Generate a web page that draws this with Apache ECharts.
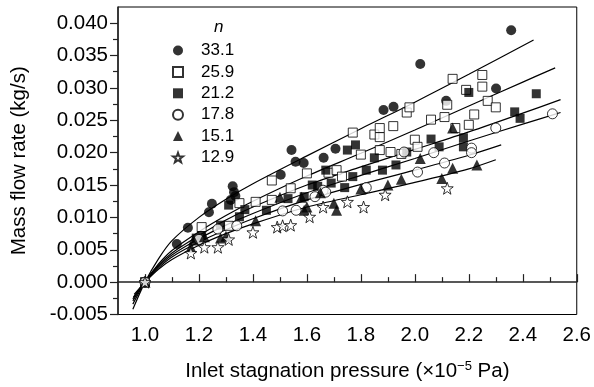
<!DOCTYPE html>
<html>
<head>
<meta charset="utf-8">
<script src="https://cdn.jsdelivr.net/npm/echarts@6/dist/echarts.min.js"></script>
<style>
html, body { margin: 0; padding: 0; background: #fff; }
#main { width: 594px; height: 387px; }
</style>
</head>
<body>
<div id="main"></div>
<script>
// measured points, [inlet pressure, mass flow rate]
const n331 = [[1.0,0],[1.118,0.0059],[1.159,0.0084],[1.237,0.0108],[1.248,0.0121],[1.318,0.0127],[1.325,0.0148],[1.33,0.0139],[1.335,0.0133],
  [1.503,0.0166],[1.543,0.0204],[1.558,0.0186],[1.588,0.0184],[1.662,0.0192],[1.706,0.0206],[1.884,0.0266],[1.921,0.0271],
  [2.020,0.0337],[2.116,0.0280],[2.301,0.0299],[2.357,0.0389]];
const n259 = [[1.0,0],[1.21,0.0085],[1.31,0.0087],[1.35,0.0122],[1.41,0.0124],[1.47,0.0157],[1.47,0.0127],[1.54,0.0145],[1.60,0.0168],
  [1.68,0.0169],[1.71,0.0173],[1.73,0.0163],[1.77,0.0231],[1.80,0.0197],[1.85,0.0228],[1.87,0.0238],[1.87,0.0224],[1.87,0.0204],
  [1.91,0.0201],[1.92,0.0241],[1.95,0.0198],[1.97,0.0262],[1.98,0.0270],[2.00,0.0220],[2.01,0.0209],[2.06,0.0251],[2.11,0.0255],
  [2.12,0.0274],[2.14,0.0314],[2.15,0.0238],[2.19,0.0297],[2.20,0.0243],[2.22,0.0259],[2.25,0.0320],[2.25,0.0302],[2.27,0.0280],[2.30,0.0270]];
const n212 = [[1.0,0],[1.19,0.0068],[1.21,0.0072],[1.28,0.0088],[1.31,0.0119],[1.35,0.0101],[1.37,0.0112],[1.45,0.0111],[1.53,0.0129],
  [1.59,0.0132],[1.62,0.0150],[1.64,0.0148],[1.67,0.0173],[1.69,0.0153],[1.74,0.0146],[1.75,0.0204],[1.77,0.0163],[1.78,0.0212],
  [1.82,0.0173],[1.85,0.0192],[1.88,0.0173],[1.93,0.0181],[1.97,0.0201],[2.06,0.0221],[2.09,0.0209],[2.18,0.0223],[2.18,0.0209],
  [2.20,0.0293],[2.37,0.0263],[2.39,0.0253],[2.45,0.0291]];
const n178 = [[1.0,0],[1.20,0.0066],[1.27,0.0082],[1.34,0.0087],[1.51,0.0110],[1.56,0.0111],[1.63,0.0132],[1.66,0.0142],[1.67,0.0139],
  [1.82,0.0146],[1.96,0.0201],[2.01,0.0170],[2.07,0.0200],[2.11,0.0184],[2.21,0.0207],[2.21,0.0200],[2.30,0.0238],[2.51,0.0260]];
const n151 = [[1.0,0],[1.17,0.0054],[1.18,0.0065],[1.22,0.0070],[1.28,0.0068],[1.30,0.0071],[1.41,0.0095],[1.50,0.0131],[1.58,0.0131],
  [1.59,0.0111],[1.60,0.0116],[1.65,0.0138],[1.70,0.0122],[1.71,0.0111],[1.80,0.0144],[1.90,0.0150],[1.95,0.0159],[2.02,0.0191],
  [2.10,0.0160],[2.14,0.0176],[2.14,0.0238],[2.23,0.0181]];
const n129 = [[1.0,0],[1.17,0.0045],[1.22,0.0054],[1.27,0.0054],[1.31,0.0066],[1.40,0.0077],[1.49,0.0085],[1.51,0.0087],[1.54,0.0088],
  [1.61,0.0101],[1.66,0.0116],[1.75,0.0124],[1.81,0.0116],[1.89,0.0135],[2.12,0.0145]];

// fitted curves
const fit331 = [[0.955,-0.0042],[1.0,0],[1.05,0.0036],[1.1,0.0064],[1.2,0.0100],[1.3,0.0128],[1.4,0.0152],[1.6,0.0195],[1.8,0.0237],[2.0,0.0278],[2.2,0.0321],[2.44,0.0374]];
const fit259 = [[0.955,-0.0034],[1.0,0],[1.05,0.0028],[1.1,0.0049],[1.2,0.0078],[1.3,0.0103],[1.4,0.0125],[1.6,0.0164],[1.8,0.0199],[2.0,0.0235],[2.2,0.0272],[2.4,0.0309],[2.52,0.0331]];
const fit212 = [[0.955,-0.0029],[1.0,0],[1.05,0.0026],[1.1,0.0045],[1.2,0.0072],[1.3,0.0096],[1.4,0.0116],[1.6,0.0150],[1.8,0.0178],[2.0,0.0205],[2.2,0.0232],[2.4,0.0261],[2.54,0.0282]];
const fit178 = [[0.955,-0.0026],[1.0,0],[1.05,0.0024],[1.1,0.0042],[1.2,0.0067],[1.3,0.0088],[1.4,0.0106],[1.6,0.0138],[1.8,0.0165],[2.0,0.0191],[2.2,0.0218],[2.4,0.0244],[2.54,0.0262]];
const fit151 = [[0.957,-0.0023],[1.0,0],[1.05,0.0022],[1.1,0.0039],[1.2,0.0062],[1.3,0.0081],[1.4,0.0098],[1.6,0.0127],[1.8,0.0151],[2.0,0.0173],[2.2,0.0196],[2.32,0.0212]];
const fit129 = [[0.96,-0.0019],[1.0,0],[1.05,0.0020],[1.1,0.0035],[1.2,0.0057],[1.3,0.0075],[1.4,0.0090],[1.6,0.0116],[1.8,0.0135],[2.0,0.0154],[2.2,0.0175],[2.3,0.0189]];

const legendNames = ['33.1', '25.9', '21.2', '17.8', '15.1', '12.9'];
const xMajor = [1.0, 1.2, 1.4, 1.6, 1.8, 2.0, 2.2, 2.4, 2.6];
const xMinor = [1.1, 1.3, 1.5, 1.7, 1.9, 2.1, 2.3, 2.5];
const yMajor = [-0.005, 0, 0.005, 0.010, 0.015, 0.020, 0.025, 0.030, 0.035, 0.040];
const yMinor = [-0.0025, 0.0025, 0.0075, 0.0125, 0.0175, 0.0225, 0.0275, 0.0325, 0.0375];

const font = 'Liberation Sans, Arial, sans-serif';
const star = 'path://M0,-10L2.35,-3.24L9.51,-3.09L3.8,1.24L5.88,8.09L0,4L-5.88,8.09L-3.8,1.24L-9.51,-3.09L-2.35,-3.24Z';

var myChart = echarts.init(document.getElementById('main'));

function pts(name, data, symbol, size, filled) {
    return {
        name: name,
        type: 'scatter',
        data: data,
        symbol: symbol,
        symbolSize: size,
        z: 5,
        itemStyle: {
            color: filled ? '#000' : '#fff',
            borderColor: '#000',
            borderWidth: filled ? 0 : 1
        }
    };
}

function curve(data) {
    return {
        type: 'line',
        data: data,
        smooth: 0.3,
        showSymbol: false,
        silent: true,
        z: 2,
        lineStyle: { color: '#000', width: 1.2 }
    };
}

option = {
    animation: false,
    title: {
        text: 'n',
        left: 214,
        top: 19,
        padding: 0,
        textStyle: { fontStyle: 'italic', fontWeight: 'normal', fontSize: 17, color: '#000', fontFamily: font }
    },
    legend: {
        orient: 'vertical',
        left: 172,
        top: 42,
        itemWidth: 10,
        itemHeight: 10,
        itemGap: 4.4,
        selectedMode: false,
        padding: 0,
        data: legendNames,
        textStyle: { fontSize: 17, lineHeight: 17, color: '#000', fontFamily: font, padding: [0, 0, 0, 13] }
    },
    grid: {
        left: 118, right: 15, top: 7, bottom: 72,
        show: true, borderColor: '#000', borderWidth: 1
    },
    xAxis: [{
        type: 'value', min: 0.9, max: 2.6,
        position: 'bottom',
        name: '{a|Inlet stagnation pressure (×10}{sup|−5}{a| Pa)}',
        nameLocation: 'middle',
        nameGap: 45,
        nameTextStyle: {
            rich: {
                a: { fontSize: 20.5, lineHeight: 24, color: '#000', fontFamily: font },
                sup: { fontSize: 13, verticalAlign: 'top', color: '#000', fontFamily: font }
            }
        },
        axisLine: { lineStyle: { color: '#222', width: 1.5 } },
        axisTick: { inside: true, length: 8, customValues: xMajor, lineStyle: { color: '#222', width: 1.2 } },
        axisLabel: { customValues: xMajor, formatter: v => v.toFixed(1), fontSize: 20.5, color: '#000', margin: 10, fontFamily: font },
        splitLine: { show: false }
    }, {
        type: 'value', min: 0.9, max: 2.6,
        position: 'bottom',
        axisLine: { show: false },
        axisTick: { inside: true, length: 5, customValues: xMinor, lineStyle: { color: '#222', width: 1.2 } },
        axisLabel: { show: false },
        splitLine: { show: false }
    }],
    yAxis: [{
        type: 'value', min: -0.005, max: 0.0425,
        position: 'left',
        name: 'Mass flow rate (kg/s)',
        nameLocation: 'middle',
        nameGap: 88,
        nameTextStyle: { fontSize: 20.5, color: '#000', fontFamily: font },
        axisLine: { lineStyle: { color: '#222', width: 1.5 } },
        axisTick: { inside: false, length: 8, customValues: yMajor, lineStyle: { color: '#222', width: 1.2 } },
        axisLabel: { customValues: yMajor, formatter: v => v.toFixed(3), fontSize: 20.5, color: '#000', margin: 10, fontFamily: font },
        splitLine: { show: false }
    }, {
        type: 'value', min: -0.005, max: 0.0425,
        position: 'left',
        axisLine: { show: false },
        axisTick: { inside: false, length: 5, customValues: yMinor, lineStyle: { color: '#222', width: 1.2 } },
        axisLabel: { show: false },
        splitLine: { show: false }
    }],
    series: [
        curve(fit331), curve(fit259), curve(fit212), curve(fit178), curve(fit151), curve(fit129),
        pts('33.1', n331, 'circle', 10, true),
        pts('25.9', n259, 'rect', 9, false),
        pts('21.2', n212, 'rect', 9, true),
        pts('17.8', n178, 'circle', 10, false),
        pts('15.1', n151, 'triangle', 11, true),
        pts('12.9', n129, star, 12, false)
    ]
};
myChart.setOption(option);
</script>
</body>
</html>
